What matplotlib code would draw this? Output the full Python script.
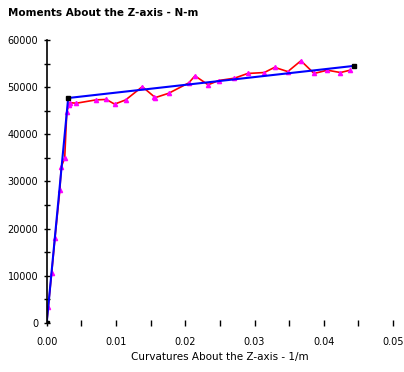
import numpy as np
import matplotlib.pyplot as plt

# measured moment-curvature curve
curv = [0.0, 0.00023, 0.00071, 0.00119, 0.0019, 0.0021, 0.0026, 0.0029, 0.0032,
        0.0033, 0.0043, 0.0071, 0.0086, 0.0098, 0.0114, 0.0138, 0.0155, 0.0157,
        0.0176, 0.0205, 0.0214, 0.0233, 0.0248, 0.0271, 0.0290, 0.0314, 0.0329,
        0.0348, 0.0367, 0.0386, 0.0405, 0.0424, 0.0438]
moment = [0, 3460, 10540, 18000, 28200, 33100, 35000, 44800, 46200,
          46700, 46600, 47300, 47400, 46400, 47300, 50100, 48000, 47800,
          48700, 50900, 52400, 50500, 51400, 51900, 52900, 53100, 54200,
          53300, 55600, 52900, 53600, 53100, 53600]

# bilinear idealization
bi_curv = [0.0, 0.0031, 0.0443]
bi_moment = [0, 47700, 54500]

xticks = [0.00, 0.01, 0.02, 0.03, 0.04, 0.05]
yticks = [0, 10000, 20000, 30000, 40000, 50000, 60000]

fig = plt.figure(figsize=(4.04, 3.72), dpi=100)
ax = fig.add_axes([0.1156, 0.1317, 0.8574, 0.7608])

ax.plot(curv, moment, '-', color='red', lw=1.2, marker='^', ms=3,
        mfc='magenta', mec='magenta')
ax.plot(bi_curv, bi_moment, '-', color='blue', lw=1.5, marker='s', ms=3,
        mfc='black', mec='black')

ax.set_xlim(0, 0.05)
ax.set_ylim(0, 60000)
ax.set_xticks(xticks)
ax.set_xticklabels(['%.2f' % v for v in xticks])
ax.set_xticks(np.arange(0, 0.0501, 0.005), minor=True)
ax.set_yticks(yticks)
ax.set_yticklabels([str(v) for v in yticks])
ax.set_yticks(np.arange(0, 60001, 5000), minor=True)

for s in ['top', 'right', 'bottom']:
    ax.spines[s].set_visible(False)
ax.spines['left'].set_color('black')
ax.spines['left'].set_linewidth(1.2)
ax.tick_params(axis='y', which='both', direction='inout', length=5, width=1, labelsize=7)
ax.tick_params(axis='x', which='both', direction='inout', length=4, width=1, labelsize=7, pad=8)

ax.set_xlabel('Curvatures About the Z-axis - 1/m', fontsize=7.5)
fig.text(0.02, 0.965, 'Moments About the Z-axis - N-m', fontsize=7.5,
         fontweight='bold', va='center', ha='left')

fig.savefig('out.png', dpi=100)
